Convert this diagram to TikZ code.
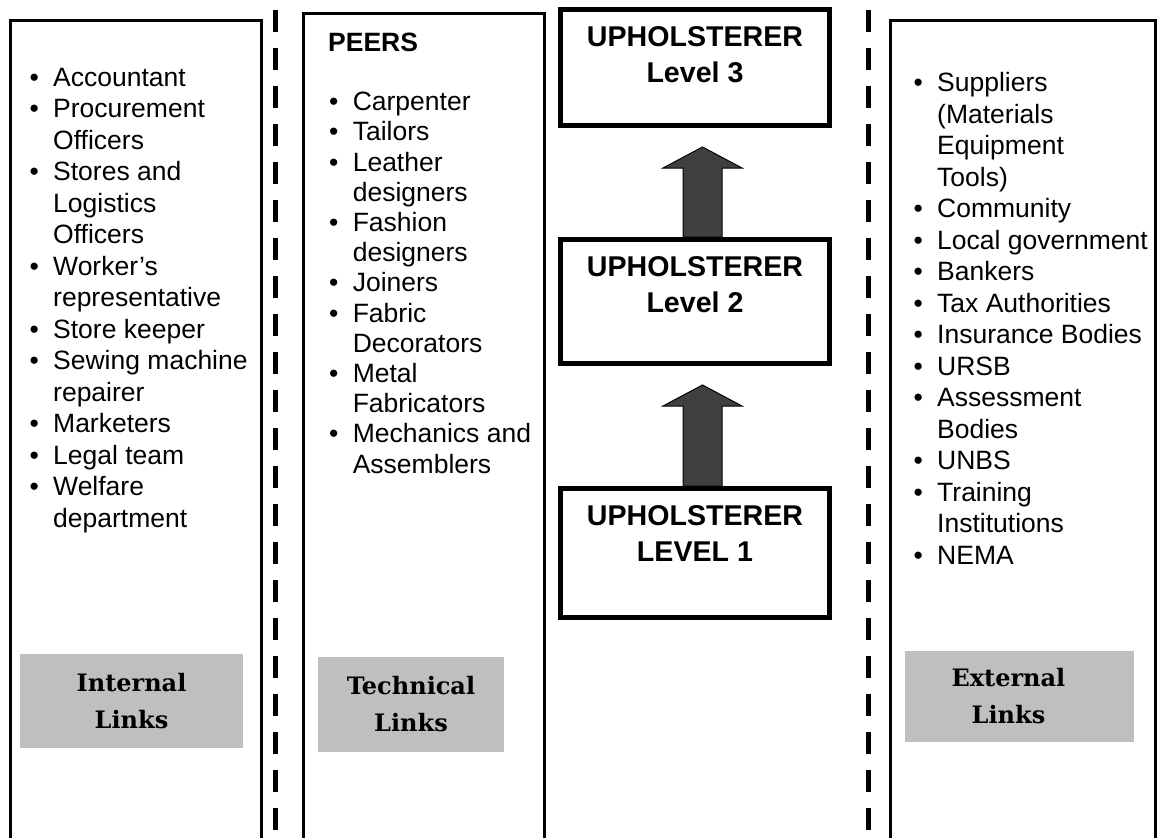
\documentclass[tikz,border=0pt]{standalone}
\usepackage{fontspec}
\setmainfont{Liberation Sans}
\newfontfamily\linkfont{DejaVu Serif}
\usetikzlibrary{positioning,calc}

\definecolor{linkgray}{RGB}{191,191,191}
\definecolor{arrowgray}{RGB}{64,64,64}

\newcommand{\lbul}{\makebox[23.6pt][l]{\textbullet}}
\newcommand{\lcont}{\hspace*{23.6pt}}

\begin{document}
\begin{tikzpicture}[x=1pt,y=-1pt,
	colline/.style={line width=3pt},
	sepline/.style={line width=5pt,dash pattern=on 22pt off 16pt},
	listtext/.style={align=left,inner sep=0pt,anchor=north west,font=\fontsize{26.5}{31.5}\selectfont},
	lvlbox/.style={draw,rectangle,line width=5pt,minimum width=269pt},
	lvltext/.style={align=center,inner sep=0pt,font=\bfseries\fontsize{28.6}{36}\selectfont},
	linkbox/.style={fill=linkgray,rectangle,align=center,font=\linkfont\bfseries\fontsize{24}{37}\selectfont},
	uparrow/.style={draw=black,line width=1pt,fill=arrowgray}]

\useasboundingbox (0,0) rectangle (1157,838);

% column frames, open at the bottom
\draw[colline] (10,845) |- (261.5,20) -- (261.5,845);
\draw[sepline] (275,10) -- (275,845);
\draw[colline] (303,845) |- (544,13.5) -- (544,845);
\draw[sepline] (868,10) -- (868,845);
\draw[colline] (890,845) |- (1155.5,20) -- (1155.5,845);

% internal links
\node[listtext] (internal_list) at (29.4,68) {\lbul Accountant\\\lbul Procurement\\\lcont Officers\\\lbul Stores and\\\lcont Logistics\\\lcont Officers\\\lbul Worker's\\\lcont representative\\\lbul Store keeper\\\lbul Sewing machine\\\lcont repairer\\\lbul Marketers\\\lbul Legal team\\\lbul Welfare\\\lcont department};

\node[linkbox,minimum width=223pt,minimum height=94pt] (internal_lbl) at (131.5,701) {Internal\\Links};

% technical links
\node[anchor=base west,inner sep=0pt,font=\bfseries\fontsize{26.5}{31.5}\selectfont] (peers) at (328,51) {PEERS};

\node[listtext,font=\fontsize{26.5}{30.2}\selectfont] (technical_list) at (329,92) {\lbul Carpenter\\\lbul Tailors\\\lbul Leather\\\lcont designers\\\lbul Fashion\\\lcont designers\\\lbul Joiners\\\lbul Fabric\\\lcont Decorators\\\lbul Metal\\\lcont Fabricators\\\lbul Mechanics and\\\lcont Assemblers};

\node[linkbox,minimum width=186pt,minimum height=95pt] (technical_lbl) at (411,704.5) {Technical\\Links};

% career levels
\node[lvlbox,minimum height=116pt] (lvl3) at (695,67.5) {};
\node[lvlbox,minimum height=124pt,below=109pt of lvl3] (lvl2) {};
\node[lvlbox,minimum height=129pt,below=120pt of lvl2] (lvl1) {};

\node[lvltext,below=19pt of lvl3.north] (lvl3_txt) {UPHOLSTERER\\Level 3};
\node[lvltext,below=19pt of lvl2.north] (lvl2_txt) {UPHOLSTERER\\Level 2};
\node[lvltext,below=19pt of lvl1.north] (lvl1_txt) {UPHOLSTERER\\LEVEL 1};

\draw[uparrow] ($(lvl1.north)+(-12,0)$) -- ($(lvl2.south)+(-12,40)$) -- ($(lvl2.south)+(-32,40)$) -- ($(lvl2.south)+(7.5,19)$) -- ($(lvl2.south)+(47,40)$) -- ($(lvl2.south)+(27,40)$) -- ($(lvl1.north)+(27,0)$) -- cycle;
\draw[uparrow] ($(lvl2.north)+(-12,0)$) -- ($(lvl3.south)+(-12,40)$) -- ($(lvl3.south)+(-32,40)$) -- ($(lvl3.south)+(7.5,19)$) -- ($(lvl3.south)+(47,40)$) -- ($(lvl3.south)+(27,40)$) -- ($(lvl2.north)+(27,0)$) -- cycle;

% external links
\node[listtext] (external_list) at (913.4,72.5) {\lbul Suppliers\\\lcont (Materials\\\lcont Equipment\\\lcont Tools)\\\lbul Community\\\lbul Local government\\\lbul Bankers\\\lbul Tax Authorities\\\lbul Insurance Bodies\\\lbul URSB\\\lbul Assessment\\\lcont Bodies\\\lbul UNBS\\\lbul Training\\\lcont Institutions\\\lbul NEMA};

\node[linkbox,minimum width=229pt,minimum height=91pt] (external_lbl) at (1019.5,696.5) {External\hspace*{22pt}\\Links\hspace*{22pt}};

\end{tikzpicture}
\end{document}
